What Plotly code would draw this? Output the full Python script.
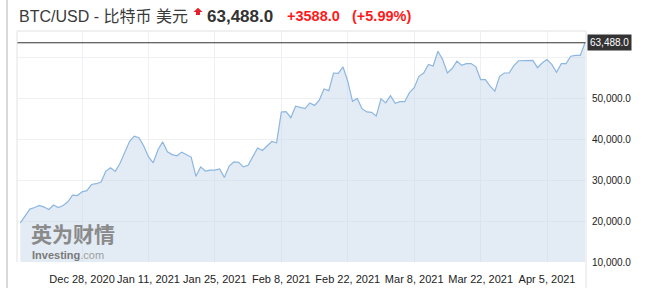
import pandas as pd
import plotly.graph_objects as go

# ---- data ----
start_date = "2020-12-15"
end_date = "2021-04-13"
prices = [
    19560, 21300, 22900, 23300, 23800, 23400, 22800, 23900, 23300, 23800, 24700, 26300, 26200,
    27100, 27400, 28900, 29100,
    29500, 32100, 33000, 32100, 34100, 36900, 39400, 40700, 40300, 38300, 35700, 34200, 37400,
    39300, 36900, 36200, 35900, 36800, 36200, 35600, 30900, 33200, 32200, 32400, 32400, 32700,
    30600, 33400, 34400, 34300, 33200,
    33600, 35700, 37800, 37200, 38400, 39400, 39100, 46600, 46700, 45200, 48000, 47700, 47400,
    48800, 48200, 49500, 52200, 51800, 56100, 56000, 57600, 54100, 49200, 49900, 47400, 46600,
    46500, 45600,
    49800, 48800, 50600, 48700, 49100, 49100, 51300, 52500, 55300, 56100, 58200, 57800, 61400,
    59400, 56100, 57200, 59000, 58000, 58400, 58400, 57600, 54500, 54500, 52900, 51700, 55300,
    56100, 56100, 57900, 59100, 59100,
    59100, 59200, 57400, 58600, 59400, 58200, 56300, 58400, 58400, 60200, 60400, 60400, 63488,
]
dates = pd.date_range(start_date, end_date, freq="D")

x_tick_vals = ["2020-12-28", "2021-01-11", "2021-01-25", "2021-02-08",
               "2021-02-22", "2021-03-08", "2021-03-22", "2021-04-05"]
x_tick_text = ["Dec 28, 2020", "Jan 11, 2021", "Jan 25, 2021", "Feb 8, 2021",
               "Feb 22, 2021", "Mar 8, 2021", "Mar 22, 2021", "Apr 5, 2021"]
y_tick_vals = [10000, 20000, 30000, 40000, 50000, 60000]
y_tick_text = ["10,000.0", "20,000.0", "30,000.0", "40,000.0", "50,000.0", ""]

last_price = 63488.0
change = 3588.0
change_pct = 5.99
title_name = "BTC/USD - 比特币 美元"

# ---- layout geometry (pixels) ----
W, H = 657, 288
L, R, T, B = 17, 71, 31, 26
PW, PH = W - L - R, H - T - B


def px(x):
    return (x - L) / PW


def py(y):
    return (H - B - y) / PH


fig = go.Figure()
fig.add_trace(go.Scatter(
    x=dates, y=prices, mode="lines",
    line=dict(color="#8db6e0", width=1.2),
    fill="tozeroy", fillcolor="rgba(200,216,234,0.5)",
    hoverinfo="skip",
))

shapes = []
# current price line
shapes.append(dict(type="line", xref="paper", yref="y", x0=0, x1=1, y0=last_price, y1=last_price,
                   line=dict(color="#333333", width=1.2)))
# plot borders
shapes.append(dict(type="line", xref="paper", yref="paper", x0=0, x1=1, y0=1, y1=1,
                   line=dict(color="#e2e2e2", width=1)))
shapes.append(dict(type="line", xref="paper", yref="paper", x0=0, x1=0, y0=0, y1=1,
                   line=dict(color="#e2e2e2", width=1)))
shapes.append(dict(type="line", xref="paper", yref="paper", x0=1, x1=1, y0=py(H), y1=1,
                   line=dict(color="#e2e2e2", width=1)))
# outer container border
shapes.append(dict(type="line", xref="paper", yref="paper", x0=px(7), x1=px(7), y0=py(H), y1=py(0),
                   line=dict(color="#cccccc", width=1.5)))
# red up marker
pts = [(193.5, 12), (198, 7.8), (202.5, 12), (200, 12), (200, 15), (196, 15), (196, 12)]
path = "M" + " L".join(f"{px(a):.5f},{py(b):.5f}" for a, b in pts) + " Z"
shapes.append(dict(type="path", xref="paper", yref="paper", path=path,
                   fillcolor="#e8202a", line=dict(width=0)))

ann = []
ann.append(dict(xref="paper", yref="paper", x=px(17), y=py(16), xanchor="left", yanchor="middle",
                text=title_name, showarrow=False,
                font=dict(family="Arial, 'Noto Sans CJK SC'", size=16, color="#3a3a3a")))
ann.append(dict(xref="paper", yref="paper", x=px(205), y=py(16), xanchor="left", yanchor="middle",
                text=f"<b>{last_price:,.1f}</b>", showarrow=False,
                font=dict(family="Arial", size=17, color="#333333")))
ann.append(dict(xref="paper", yref="paper", x=px(285), y=py(16.5), xanchor="left", yanchor="middle",
                text=f"<b>+{change:.1f}</b>", showarrow=False,
                font=dict(family="Arial", size=14.5, color="#ff1a1a")))
ann.append(dict(xref="paper", yref="paper", x=px(350), y=py(16.5), xanchor="left", yanchor="middle",
                text=f"<b>(+{change_pct:.2f}%)</b>", showarrow=False,
                font=dict(family="Arial", size=14.5, color="#ff1a1a")))
# current price label
ann.append(dict(xref="paper", yref="y", x=1, y=last_price, xanchor="left", yanchor="middle",
                text=f"{last_price:,.1f}", showarrow=False, bgcolor="#333333",
                borderpad=2, xshift=1,
                font=dict(family="Arial", size=10, color="#ffffff")))
# watermark
ann.append(dict(xref="paper", yref="paper", x=px(30), y=py(249), xanchor="left", yanchor="bottom",
                text="<b>英为财情</b>", showarrow=False, borderpad=0,
                font=dict(family="'Noto Sans CJK SC'", size=21, color="#8a8a8a")))
ann.append(dict(xref="paper", yref="paper", x=px(31), y=py(247.5), xanchor="left", yanchor="top",
                text="<b>Investing</b><span style='color:#a0a0a0'>.com</span>", showarrow=False,
                borderpad=0,
                font=dict(family="Arial", size=11, color="#7a7a7a")))

fig.update_layout(
    width=W, height=H,
    margin=dict(l=L, r=R, t=T, b=B, pad=0, autoexpand=False),
    paper_bgcolor="white", plot_bgcolor="white",
    showlegend=False,
    shapes=shapes, annotations=ann,
    xaxis=dict(
        type="date", automargin=False,
        range=["2020-12-14 07:00", "2021-04-13 05:00"],
        tickvals=x_tick_vals, ticktext=x_tick_text,
        showgrid=True, gridcolor="#eef0f3", gridwidth=1,
        zeroline=False, showline=False, ticks="",
        ticklabelstandoff=9,
        tickfont=dict(family="Arial", size=11, color="#222222"),
    ),
    yaxis=dict(
        side="right", automargin=False,
        range=[10000, 66350],
        tickvals=y_tick_vals, ticktext=y_tick_text,
        showgrid=True, gridcolor="#eef0f3", gridwidth=1,
        zeroline=False, showline=False, ticks="",
        ticklabelstandoff=5,
        tickfont=dict(family="Arial", size=10, color="#222222"),
    ),
)

fig.write_html("out.html")
